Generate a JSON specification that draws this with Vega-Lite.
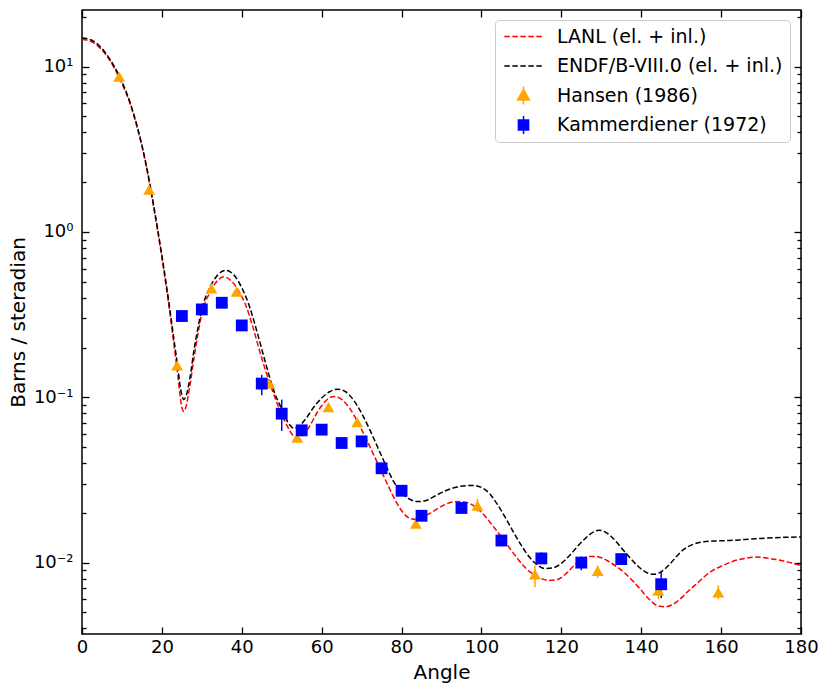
{
  "$schema": "https://vega.github.io/schema/vega-lite/v6.json",
  "width": 719,
  "height": 624,
  "autosize": {"type": "none"},
  "padding": {"left": 82, "top": 10, "right": 29, "bottom": 58},
  "background": "white",
  "config": {
    "font": "DejaVu Sans",
    "view": {"stroke": "black", "strokeWidth": 1.5},
    "axis": {
      "grid": false,
      "domain": false,
      "tickColor": "black",
      "tickWidth": 1.3,
      "labelColor": "black",
      "titleColor": "black",
      "labelFont": "DejaVu Sans",
      "titleFont": "DejaVu Sans",
      "labelFontSize": 18,
      "titleFontSize": 20,
      "titleFontWeight": "normal"
    }
  },
  "datasets": {
    "curves": [
      {"series": "LANL (el. + inl.)", "angle": 0, "value": 14.6},
      {"series": "LANL (el. + inl.)", "angle": 2, "value": 14.3},
      {"series": "LANL (el. + inl.)", "angle": 4, "value": 13.3},
      {"series": "LANL (el. + inl.)", "angle": 6, "value": 11.8},
      {"series": "LANL (el. + inl.)", "angle": 8, "value": 9.9},
      {"series": "LANL (el. + inl.)", "angle": 10, "value": 7.9},
      {"series": "LANL (el. + inl.)", "angle": 12, "value": 6.0},
      {"series": "LANL (el. + inl.)", "angle": 14, "value": 4.1},
      {"series": "LANL (el. + inl.)", "angle": 15, "value": 3.3},
      {"series": "LANL (el. + inl.)", "angle": 16, "value": 2.55},
      {"series": "LANL (el. + inl.)", "angle": 17, "value": 1.9},
      {"series": "LANL (el. + inl.)", "angle": 18, "value": 1.38},
      {"series": "LANL (el. + inl.)", "angle": 19, "value": 0.99},
      {"series": "LANL (el. + inl.)", "angle": 20, "value": 0.70},
      {"series": "LANL (el. + inl.)", "angle": 21, "value": 0.48},
      {"series": "LANL (el. + inl.)", "angle": 22, "value": 0.325},
      {"series": "LANL (el. + inl.)", "angle": 23, "value": 0.21},
      {"series": "LANL (el. + inl.)", "angle": 24, "value": 0.135},
      {"series": "LANL (el. + inl.)", "angle": 24.5, "value": 0.105},
      {"series": "LANL (el. + inl.)", "angle": 25, "value": 0.087},
      {"series": "LANL (el. + inl.)", "angle": 25.5, "value": 0.082},
      {"series": "LANL (el. + inl.)", "angle": 26, "value": 0.087},
      {"series": "LANL (el. + inl.)", "angle": 27, "value": 0.117},
      {"series": "LANL (el. + inl.)", "angle": 28, "value": 0.17},
      {"series": "LANL (el. + inl.)", "angle": 29, "value": 0.24},
      {"series": "LANL (el. + inl.)", "angle": 30, "value": 0.32},
      {"series": "LANL (el. + inl.)", "angle": 32, "value": 0.43},
      {"series": "LANL (el. + inl.)", "angle": 34, "value": 0.51},
      {"series": "LANL (el. + inl.)", "angle": 35.5, "value": 0.535},
      {"series": "LANL (el. + inl.)", "angle": 37, "value": 0.515},
      {"series": "LANL (el. + inl.)", "angle": 39, "value": 0.45},
      {"series": "LANL (el. + inl.)", "angle": 41, "value": 0.36},
      {"series": "LANL (el. + inl.)", "angle": 43, "value": 0.255},
      {"series": "LANL (el. + inl.)", "angle": 45, "value": 0.172},
      {"series": "LANL (el. + inl.)", "angle": 47, "value": 0.122},
      {"series": "LANL (el. + inl.)", "angle": 49, "value": 0.09},
      {"series": "LANL (el. + inl.)", "angle": 51, "value": 0.07},
      {"series": "LANL (el. + inl.)", "angle": 53, "value": 0.058},
      {"series": "LANL (el. + inl.)", "angle": 54, "value": 0.0565},
      {"series": "LANL (el. + inl.)", "angle": 55, "value": 0.058},
      {"series": "LANL (el. + inl.)", "angle": 57, "value": 0.067},
      {"series": "LANL (el. + inl.)", "angle": 59, "value": 0.082},
      {"series": "LANL (el. + inl.)", "angle": 61, "value": 0.095},
      {"series": "LANL (el. + inl.)", "angle": 63, "value": 0.101},
      {"series": "LANL (el. + inl.)", "angle": 65, "value": 0.097},
      {"series": "LANL (el. + inl.)", "angle": 67, "value": 0.086},
      {"series": "LANL (el. + inl.)", "angle": 69, "value": 0.071},
      {"series": "LANL (el. + inl.)", "angle": 71, "value": 0.057},
      {"series": "LANL (el. + inl.)", "angle": 73, "value": 0.045},
      {"series": "LANL (el. + inl.)", "angle": 75, "value": 0.0355},
      {"series": "LANL (el. + inl.)", "angle": 77, "value": 0.028},
      {"series": "LANL (el. + inl.)", "angle": 79, "value": 0.0225},
      {"series": "LANL (el. + inl.)", "angle": 81, "value": 0.0193},
      {"series": "LANL (el. + inl.)", "angle": 83, "value": 0.0183},
      {"series": "LANL (el. + inl.)", "angle": 85, "value": 0.0187},
      {"series": "LANL (el. + inl.)", "angle": 87, "value": 0.0198},
      {"series": "LANL (el. + inl.)", "angle": 89, "value": 0.0212},
      {"series": "LANL (el. + inl.)", "angle": 91, "value": 0.0225},
      {"series": "LANL (el. + inl.)", "angle": 93, "value": 0.0233},
      {"series": "LANL (el. + inl.)", "angle": 95, "value": 0.0234},
      {"series": "LANL (el. + inl.)", "angle": 97, "value": 0.0228},
      {"series": "LANL (el. + inl.)", "angle": 99, "value": 0.0212},
      {"series": "LANL (el. + inl.)", "angle": 101, "value": 0.019},
      {"series": "LANL (el. + inl.)", "angle": 103, "value": 0.0165},
      {"series": "LANL (el. + inl.)", "angle": 105, "value": 0.0143},
      {"series": "LANL (el. + inl.)", "angle": 107, "value": 0.0123},
      {"series": "LANL (el. + inl.)", "angle": 109, "value": 0.0106},
      {"series": "LANL (el. + inl.)", "angle": 111, "value": 0.0093},
      {"series": "LANL (el. + inl.)", "angle": 113, "value": 0.0085},
      {"series": "LANL (el. + inl.)", "angle": 115, "value": 0.008},
      {"series": "LANL (el. + inl.)", "angle": 117, "value": 0.0078},
      {"series": "LANL (el. + inl.)", "angle": 119, "value": 0.0079},
      {"series": "LANL (el. + inl.)", "angle": 121, "value": 0.0085},
      {"series": "LANL (el. + inl.)", "angle": 123, "value": 0.0095},
      {"series": "LANL (el. + inl.)", "angle": 125, "value": 0.0104},
      {"series": "LANL (el. + inl.)", "angle": 127, "value": 0.0109},
      {"series": "LANL (el. + inl.)", "angle": 128.5, "value": 0.0109},
      {"series": "LANL (el. + inl.)", "angle": 130, "value": 0.0107},
      {"series": "LANL (el. + inl.)", "angle": 132, "value": 0.0101},
      {"series": "LANL (el. + inl.)", "angle": 134, "value": 0.0094},
      {"series": "LANL (el. + inl.)", "angle": 136, "value": 0.0086},
      {"series": "LANL (el. + inl.)", "angle": 138, "value": 0.0077},
      {"series": "LANL (el. + inl.)", "angle": 140, "value": 0.0068},
      {"series": "LANL (el. + inl.)", "angle": 142, "value": 0.006},
      {"series": "LANL (el. + inl.)", "angle": 144, "value": 0.0055},
      {"series": "LANL (el. + inl.)", "angle": 146, "value": 0.0054},
      {"series": "LANL (el. + inl.)", "angle": 148, "value": 0.0056},
      {"series": "LANL (el. + inl.)", "angle": 150, "value": 0.0061},
      {"series": "LANL (el. + inl.)", "angle": 152, "value": 0.0068},
      {"series": "LANL (el. + inl.)", "angle": 154, "value": 0.0075},
      {"series": "LANL (el. + inl.)", "angle": 156, "value": 0.0083},
      {"series": "LANL (el. + inl.)", "angle": 158, "value": 0.009},
      {"series": "LANL (el. + inl.)", "angle": 160, "value": 0.0095},
      {"series": "LANL (el. + inl.)", "angle": 163, "value": 0.0102},
      {"series": "LANL (el. + inl.)", "angle": 166, "value": 0.0106},
      {"series": "LANL (el. + inl.)", "angle": 169, "value": 0.0108},
      {"series": "LANL (el. + inl.)", "angle": 172, "value": 0.0106},
      {"series": "LANL (el. + inl.)", "angle": 175, "value": 0.0103},
      {"series": "LANL (el. + inl.)", "angle": 178, "value": 0.0099},
      {"series": "LANL (el. + inl.)", "angle": 180, "value": 0.0096},
      {"series": "ENDF/B-VIII.0 (el. + inl.)", "angle": 0, "value": 14.9},
      {"series": "ENDF/B-VIII.0 (el. + inl.)", "angle": 2, "value": 14.6},
      {"series": "ENDF/B-VIII.0 (el. + inl.)", "angle": 4, "value": 13.6},
      {"series": "ENDF/B-VIII.0 (el. + inl.)", "angle": 6, "value": 12.0},
      {"series": "ENDF/B-VIII.0 (el. + inl.)", "angle": 8, "value": 10.1},
      {"series": "ENDF/B-VIII.0 (el. + inl.)", "angle": 10, "value": 8.1},
      {"series": "ENDF/B-VIII.0 (el. + inl.)", "angle": 12, "value": 6.1},
      {"series": "ENDF/B-VIII.0 (el. + inl.)", "angle": 14, "value": 4.2},
      {"series": "ENDF/B-VIII.0 (el. + inl.)", "angle": 15, "value": 3.35},
      {"series": "ENDF/B-VIII.0 (el. + inl.)", "angle": 16, "value": 2.6},
      {"series": "ENDF/B-VIII.0 (el. + inl.)", "angle": 17, "value": 1.95},
      {"series": "ENDF/B-VIII.0 (el. + inl.)", "angle": 18, "value": 1.42},
      {"series": "ENDF/B-VIII.0 (el. + inl.)", "angle": 19, "value": 1.02},
      {"series": "ENDF/B-VIII.0 (el. + inl.)", "angle": 20, "value": 0.72},
      {"series": "ENDF/B-VIII.0 (el. + inl.)", "angle": 21, "value": 0.50},
      {"series": "ENDF/B-VIII.0 (el. + inl.)", "angle": 22, "value": 0.34},
      {"series": "ENDF/B-VIII.0 (el. + inl.)", "angle": 23, "value": 0.225},
      {"series": "ENDF/B-VIII.0 (el. + inl.)", "angle": 24, "value": 0.15},
      {"series": "ENDF/B-VIII.0 (el. + inl.)", "angle": 24.5, "value": 0.12},
      {"series": "ENDF/B-VIII.0 (el. + inl.)", "angle": 25, "value": 0.103},
      {"series": "ENDF/B-VIII.0 (el. + inl.)", "angle": 25.5, "value": 0.097},
      {"series": "ENDF/B-VIII.0 (el. + inl.)", "angle": 26, "value": 0.101},
      {"series": "ENDF/B-VIII.0 (el. + inl.)", "angle": 27, "value": 0.13},
      {"series": "ENDF/B-VIII.0 (el. + inl.)", "angle": 28, "value": 0.19},
      {"series": "ENDF/B-VIII.0 (el. + inl.)", "angle": 29, "value": 0.26},
      {"series": "ENDF/B-VIII.0 (el. + inl.)", "angle": 30, "value": 0.34},
      {"series": "ENDF/B-VIII.0 (el. + inl.)", "angle": 32, "value": 0.46},
      {"series": "ENDF/B-VIII.0 (el. + inl.)", "angle": 34, "value": 0.55},
      {"series": "ENDF/B-VIII.0 (el. + inl.)", "angle": 36, "value": 0.585},
      {"series": "ENDF/B-VIII.0 (el. + inl.)", "angle": 38, "value": 0.55},
      {"series": "ENDF/B-VIII.0 (el. + inl.)", "angle": 40, "value": 0.46},
      {"series": "ENDF/B-VIII.0 (el. + inl.)", "angle": 42, "value": 0.35},
      {"series": "ENDF/B-VIII.0 (el. + inl.)", "angle": 44, "value": 0.24},
      {"series": "ENDF/B-VIII.0 (el. + inl.)", "angle": 46, "value": 0.16},
      {"series": "ENDF/B-VIII.0 (el. + inl.)", "angle": 48, "value": 0.11},
      {"series": "ENDF/B-VIII.0 (el. + inl.)", "angle": 50, "value": 0.085},
      {"series": "ENDF/B-VIII.0 (el. + inl.)", "angle": 52, "value": 0.068},
      {"series": "ENDF/B-VIII.0 (el. + inl.)", "angle": 53, "value": 0.065},
      {"series": "ENDF/B-VIII.0 (el. + inl.)", "angle": 54, "value": 0.066},
      {"series": "ENDF/B-VIII.0 (el. + inl.)", "angle": 56, "value": 0.074},
      {"series": "ENDF/B-VIII.0 (el. + inl.)", "angle": 58, "value": 0.087},
      {"series": "ENDF/B-VIII.0 (el. + inl.)", "angle": 60, "value": 0.099},
      {"series": "ENDF/B-VIII.0 (el. + inl.)", "angle": 62, "value": 0.108},
      {"series": "ENDF/B-VIII.0 (el. + inl.)", "angle": 64, "value": 0.112},
      {"series": "ENDF/B-VIII.0 (el. + inl.)", "angle": 66, "value": 0.108},
      {"series": "ENDF/B-VIII.0 (el. + inl.)", "angle": 68, "value": 0.096},
      {"series": "ENDF/B-VIII.0 (el. + inl.)", "angle": 70, "value": 0.08},
      {"series": "ENDF/B-VIII.0 (el. + inl.)", "angle": 72, "value": 0.064},
      {"series": "ENDF/B-VIII.0 (el. + inl.)", "angle": 74, "value": 0.05},
      {"series": "ENDF/B-VIII.0 (el. + inl.)", "angle": 76, "value": 0.039},
      {"series": "ENDF/B-VIII.0 (el. + inl.)", "angle": 78, "value": 0.031},
      {"series": "ENDF/B-VIII.0 (el. + inl.)", "angle": 80, "value": 0.0265},
      {"series": "ENDF/B-VIII.0 (el. + inl.)", "angle": 82, "value": 0.0242},
      {"series": "ENDF/B-VIII.0 (el. + inl.)", "angle": 84, "value": 0.0234},
      {"series": "ENDF/B-VIII.0 (el. + inl.)", "angle": 86, "value": 0.0237},
      {"series": "ENDF/B-VIII.0 (el. + inl.)", "angle": 88, "value": 0.025},
      {"series": "ENDF/B-VIII.0 (el. + inl.)", "angle": 90, "value": 0.0265},
      {"series": "ENDF/B-VIII.0 (el. + inl.)", "angle": 92, "value": 0.0278},
      {"series": "ENDF/B-VIII.0 (el. + inl.)", "angle": 94, "value": 0.0287},
      {"series": "ENDF/B-VIII.0 (el. + inl.)", "angle": 96, "value": 0.0292},
      {"series": "ENDF/B-VIII.0 (el. + inl.)", "angle": 98, "value": 0.0293},
      {"series": "ENDF/B-VIII.0 (el. + inl.)", "angle": 100, "value": 0.0285},
      {"series": "ENDF/B-VIII.0 (el. + inl.)", "angle": 102, "value": 0.0262},
      {"series": "ENDF/B-VIII.0 (el. + inl.)", "angle": 104, "value": 0.0225},
      {"series": "ENDF/B-VIII.0 (el. + inl.)", "angle": 106, "value": 0.0187},
      {"series": "ENDF/B-VIII.0 (el. + inl.)", "angle": 108, "value": 0.0153},
      {"series": "ENDF/B-VIII.0 (el. + inl.)", "angle": 110, "value": 0.0127},
      {"series": "ENDF/B-VIII.0 (el. + inl.)", "angle": 112, "value": 0.0108},
      {"series": "ENDF/B-VIII.0 (el. + inl.)", "angle": 114, "value": 0.0097},
      {"series": "ENDF/B-VIII.0 (el. + inl.)", "angle": 116, "value": 0.0092},
      {"series": "ENDF/B-VIII.0 (el. + inl.)", "angle": 118, "value": 0.0093},
      {"series": "ENDF/B-VIII.0 (el. + inl.)", "angle": 120, "value": 0.0099},
      {"series": "ENDF/B-VIII.0 (el. + inl.)", "angle": 122, "value": 0.011},
      {"series": "ENDF/B-VIII.0 (el. + inl.)", "angle": 124, "value": 0.0125},
      {"series": "ENDF/B-VIII.0 (el. + inl.)", "angle": 126, "value": 0.014},
      {"series": "ENDF/B-VIII.0 (el. + inl.)", "angle": 128, "value": 0.0153},
      {"series": "ENDF/B-VIII.0 (el. + inl.)", "angle": 129.5, "value": 0.0157},
      {"series": "ENDF/B-VIII.0 (el. + inl.)", "angle": 131, "value": 0.0153},
      {"series": "ENDF/B-VIII.0 (el. + inl.)", "angle": 133, "value": 0.014},
      {"series": "ENDF/B-VIII.0 (el. + inl.)", "angle": 135, "value": 0.0123},
      {"series": "ENDF/B-VIII.0 (el. + inl.)", "angle": 137, "value": 0.0108},
      {"series": "ENDF/B-VIII.0 (el. + inl.)", "angle": 139, "value": 0.0096},
      {"series": "ENDF/B-VIII.0 (el. + inl.)", "angle": 141, "value": 0.0088},
      {"series": "ENDF/B-VIII.0 (el. + inl.)", "angle": 143, "value": 0.0085},
      {"series": "ENDF/B-VIII.0 (el. + inl.)", "angle": 145, "value": 0.0088},
      {"series": "ENDF/B-VIII.0 (el. + inl.)", "angle": 147, "value": 0.0097},
      {"series": "ENDF/B-VIII.0 (el. + inl.)", "angle": 149, "value": 0.011},
      {"series": "ENDF/B-VIII.0 (el. + inl.)", "angle": 151, "value": 0.0122},
      {"series": "ENDF/B-VIII.0 (el. + inl.)", "angle": 153, "value": 0.0129},
      {"series": "ENDF/B-VIII.0 (el. + inl.)", "angle": 155, "value": 0.0133},
      {"series": "ENDF/B-VIII.0 (el. + inl.)", "angle": 158, "value": 0.0135},
      {"series": "ENDF/B-VIII.0 (el. + inl.)", "angle": 162, "value": 0.0136},
      {"series": "ENDF/B-VIII.0 (el. + inl.)", "angle": 166, "value": 0.0138},
      {"series": "ENDF/B-VIII.0 (el. + inl.)", "angle": 170, "value": 0.014},
      {"series": "ENDF/B-VIII.0 (el. + inl.)", "angle": 175, "value": 0.0142},
      {"series": "ENDF/B-VIII.0 (el. + inl.)", "angle": 180, "value": 0.0143}
    ],
    "points": [
      {"series": "Hansen (1986)", "angle": 9.3, "value": 8.7, "lo": null, "hi": null},
      {"series": "Hansen (1986)", "angle": 16.8, "value": 1.8, "lo": null, "hi": null},
      {"series": "Hansen (1986)", "angle": 23.8, "value": 0.156, "lo": null, "hi": null},
      {"series": "Hansen (1986)", "angle": 32.4, "value": 0.456, "lo": null, "hi": null},
      {"series": "Hansen (1986)", "angle": 38.7, "value": 0.435, "lo": null, "hi": null},
      {"series": "Hansen (1986)", "angle": 46.9, "value": 0.121, "lo": null, "hi": null},
      {"series": "Hansen (1986)", "angle": 53.9, "value": 0.057, "lo": 0.053, "hi": 0.061},
      {"series": "Hansen (1986)", "angle": 61.7, "value": 0.0873, "lo": null, "hi": null},
      {"series": "Hansen (1986)", "angle": 68.9, "value": 0.0708, "lo": null, "hi": null},
      {"series": "Hansen (1986)", "angle": 83.6, "value": 0.0172, "lo": null, "hi": null},
      {"series": "Hansen (1986)", "angle": 99.0, "value": 0.0221, "lo": 0.0202, "hi": 0.0243},
      {"series": "Hansen (1986)", "angle": 113.4, "value": 0.0085, "lo": 0.0071, "hi": 0.0096},
      {"series": "Hansen (1986)", "angle": 129.1, "value": 0.0089, "lo": 0.0081, "hi": 0.0096},
      {"series": "Hansen (1986)", "angle": 144.3, "value": 0.0068, "lo": 0.006, "hi": 0.0073},
      {"series": "Hansen (1986)", "angle": 159.3, "value": 0.0066, "lo": 0.006, "hi": 0.0073},
      {"series": "Kammerdiener (1972)", "angle": 25, "value": 0.31, "lo": null, "hi": null},
      {"series": "Kammerdiener (1972)", "angle": 30, "value": 0.34, "lo": null, "hi": null},
      {"series": "Kammerdiener (1972)", "angle": 35, "value": 0.373, "lo": null, "hi": null},
      {"series": "Kammerdiener (1972)", "angle": 40, "value": 0.272, "lo": null, "hi": null},
      {"series": "Kammerdiener (1972)", "angle": 45, "value": 0.121, "lo": 0.103, "hi": 0.137},
      {"series": "Kammerdiener (1972)", "angle": 50, "value": 0.0796, "lo": 0.0625, "hi": 0.0968},
      {"series": "Kammerdiener (1972)", "angle": 55, "value": 0.0631, "lo": null, "hi": null},
      {"series": "Kammerdiener (1972)", "angle": 60, "value": 0.0637, "lo": null, "hi": null},
      {"series": "Kammerdiener (1972)", "angle": 65, "value": 0.0529, "lo": null, "hi": null},
      {"series": "Kammerdiener (1972)", "angle": 70, "value": 0.0541, "lo": null, "hi": null},
      {"series": "Kammerdiener (1972)", "angle": 75, "value": 0.0372, "lo": null, "hi": null},
      {"series": "Kammerdiener (1972)", "angle": 80, "value": 0.0272, "lo": null, "hi": null},
      {"series": "Kammerdiener (1972)", "angle": 85, "value": 0.0192, "lo": null, "hi": null},
      {"series": "Kammerdiener (1972)", "angle": 95, "value": 0.0214, "lo": null, "hi": null},
      {"series": "Kammerdiener (1972)", "angle": 105, "value": 0.0136, "lo": null, "hi": null},
      {"series": "Kammerdiener (1972)", "angle": 115, "value": 0.0106, "lo": 0.0098, "hi": 0.0115},
      {"series": "Kammerdiener (1972)", "angle": 125, "value": 0.01, "lo": 0.009, "hi": 0.0109},
      {"series": "Kammerdiener (1972)", "angle": 135, "value": 0.0105, "lo": 0.0098, "hi": 0.0113},
      {"series": "Kammerdiener (1972)", "angle": 145, "value": 0.0074, "lo": 0.0061, "hi": 0.0089}
    ]
  },
  "layer": [
    {
      "data": {"name": "curves"},
      "mark": {"type": "line", "strokeDash": [5.5, 2.5], "strokeWidth": 1.5, "interpolate": "monotone"},
      "encoding": {
        "x": {
          "field": "angle", "type": "quantitative",
          "scale": {"domain": [0, 180], "nice": false, "zero": false},
          "axis": {
            "orient": "bottom", "title": "Angle",
            "values": [0, 20, 40, 60, 80, 100, 120, 140, 160, 180],
            "tickSize": -7, "labelPadding": 11, "titlePadding": 6,
            "labelFlush": false, "labelOverlap": false
          }
        },
        "y": {
          "field": "value", "type": "quantitative",
          "scale": {"type": "log", "domain": [0.0037, 22], "nice": false},
          "axis": {
            "orient": "left", "title": "Barns / steradian",
            "values": [0.004, 0.005, 0.006, 0.007, 0.008, 0.009, 0.01, 0.02, 0.03, 0.04, 0.05, 0.06, 0.07, 0.08, 0.09, 0.1, 0.2, 0.3, 0.4, 0.5, 0.6, 0.7, 0.8, 0.9, 1, 2, 3, 4, 5, 6, 7, 8, 9, 10, 20],
            "labelExpr": "datum.value == 10 ? '10¹' : datum.value == 1 ? '10⁰' : datum.value == 0.1 ? '10⁻¹' : datum.value == 0.01 ? '10⁻²' : ''",
            "tickSize": {"condition": {"test": "datum.value == 10 || datum.value == 1 || datum.value == 0.1 || datum.value == 0.01", "value": -7}, "value": -4},
            "labelPadding": 16, "titlePadding": 5,
            "labelFlush": false, "labelOverlap": false, "labelBaseline": "middle"
          }
        },
        "color": {
          "field": "series", "type": "nominal",
          "scale": {
            "domain": ["LANL (el. + inl.)", "ENDF/B-VIII.0 (el. + inl.)", "Hansen (1986)", "Kammerdiener (1972)"],
            "range": ["red", "black", "orange", "blue"]
          },
          "legend": {
            "orient": "none", "legendX": 413, "legendY": 10, "title": null,
            "direction": "vertical",
            "labelFontSize": 19, "labelFont": "DejaVu Sans", "labelColor": "black", "labelLimit": 400,
            "symbolSize": 144, "symbolStrokeWidth": 1.5, "symbolOffset": 12, "labelOffset": 24,
            "rowPadding": 9.5, "padding": 7, "clipHeight": 19,
            "strokeColor": "#cccccc", "fillColor": "white", "cornerRadius": 4,
            "encode": {
              "symbols": {
                "update": {
                  "shape": {"signal": "datum.value == 'Hansen (1986)' ? 'M0,-1.5V1.5M0,-1L1,0.75L-1,0.75Z' : datum.value == 'Kammerdiener (1972)' ? 'M0,-1.5V1.5M-0.85,-0.85H0.85V0.85H-0.85Z' : 'M-3.2,0H3.2'"},
                  "fill": {"signal": "datum.value == 'Hansen (1986)' ? 'orange' : datum.value == 'Kammerdiener (1972)' ? 'blue' : 'transparent'"},
                  "stroke": {"signal": "datum.value == 'LANL (el. + inl.)' ? 'red' : datum.value == 'ENDF/B-VIII.0 (el. + inl.)' ? 'black' : datum.value == 'Hansen (1986)' ? 'orange' : 'blue'"},
                  "strokeDash": {"signal": "datum.value == 'Hansen (1986)' || datum.value == 'Kammerdiener (1972)' ? [1, 0] : [5.5, 2.5]"},
                  "strokeWidth": {"value": 1.5},
                  "opacity": {"value": 1}
                }
              }
            }
          }
        }
      }
    },
    {
      "data": {"name": "points"},
      "transform": [{"filter": "datum.lo != null"}],
      "mark": {"type": "rule", "strokeWidth": 1.5},
      "encoding": {
        "x": {
          "field": "angle", "type": "quantitative",
          "axis": {
            "orient": "top", "title": null, "labels": false,
            "values": [0, 20, 40, 60, 80, 100, 120, 140, 160, 180],
            "tickSize": -7
          }
        },
        "y": {
          "field": "lo", "type": "quantitative",
          "axis": {
            "orient": "right", "title": null, "labels": false,
            "values": [0.004, 0.005, 0.006, 0.007, 0.008, 0.009, 0.01, 0.02, 0.03, 0.04, 0.05, 0.06, 0.07, 0.08, 0.09, 0.1, 0.2, 0.3, 0.4, 0.5, 0.6, 0.7, 0.8, 0.9, 1, 2, 3, 4, 5, 6, 7, 8, 9, 10, 20],
            "tickSize": {"condition": {"test": "datum.value == 10 || datum.value == 1 || datum.value == 0.1 || datum.value == 0.01", "value": -7}, "value": -4}
          }
        },
        "y2": {"field": "hi"},
        "color": {"field": "series", "type": "nominal"}
      }
    },
    {
      "data": {"name": "points"},
      "mark": {"type": "point", "filled": true, "opacity": 1, "size": 140},
      "encoding": {
        "x": {"field": "angle", "type": "quantitative", "axis": null},
        "y": {"field": "value", "type": "quantitative", "axis": null},
        "color": {"field": "series", "type": "nominal"},
        "shape": {
          "field": "series", "type": "nominal",
          "scale": {"domain": ["Hansen (1986)", "Kammerdiener (1972)"], "range": ["triangle-up", "square"]},
          "legend": null
        }
      }
    }
  ],
  "resolve": {"axis": {"x": "independent", "y": "independent"}}
}
